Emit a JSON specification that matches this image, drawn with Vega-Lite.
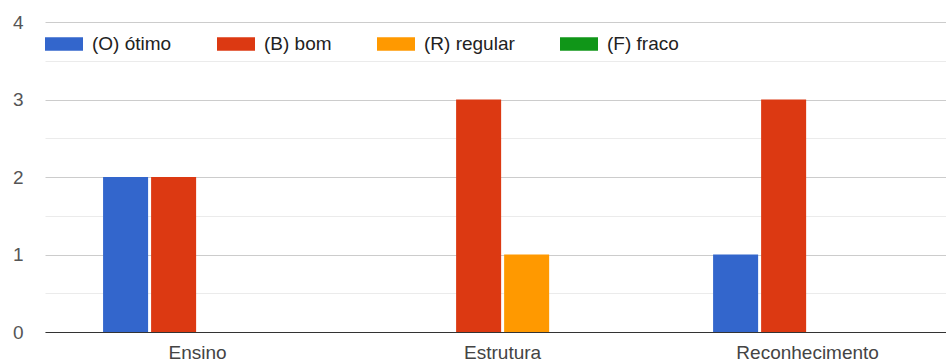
{
  "$schema": "https://vega.github.io/schema/vega-lite/v6.json",
  "width": 901,
  "height": 310,
  "autosize": {"type": "none"},
  "padding": {"left": 45, "top": 22, "right": 0, "bottom": 31},
  "background": "#ffffff",
  "config": {
    "view": {"stroke": null},
    "font": "Liberation Sans"
  },
  "data": {
    "values": [
      {"categoria": "Ensino", "avaliacao": "(O) ótimo", "respostas": 2},
      {"categoria": "Ensino", "avaliacao": "(B) bom", "respostas": 2},
      {"categoria": "Ensino", "avaliacao": "(R) regular", "respostas": 0},
      {"categoria": "Ensino", "avaliacao": "(F) fraco", "respostas": 0},
      {"categoria": "Estrutura", "avaliacao": "(O) ótimo", "respostas": 0},
      {"categoria": "Estrutura", "avaliacao": "(B) bom", "respostas": 3},
      {"categoria": "Estrutura", "avaliacao": "(R) regular", "respostas": 1},
      {"categoria": "Estrutura", "avaliacao": "(F) fraco", "respostas": 0},
      {"categoria": "Reconhecimento", "avaliacao": "(O) ótimo", "respostas": 1},
      {"categoria": "Reconhecimento", "avaliacao": "(B) bom", "respostas": 3},
      {"categoria": "Reconhecimento", "avaliacao": "(R) regular", "respostas": 0},
      {"categoria": "Reconhecimento", "avaliacao": "(F) fraco", "respostas": 0}
    ]
  },
  "encoding": {
    "x": {
      "field": "categoria",
      "type": "nominal",
      "sort": ["Ensino", "Estrutura", "Reconhecimento"],
      "scale": {"paddingInner": 0.38, "paddingOuter": 0.167, "align": 0.57},
      "axis": {
        "title": null,
        "labelAngle": 0,
        "ticks": false,
        "domain": true,
        "domainColor": "#333333",
        "domainWidth": 1,
        "labelFontSize": 19,
        "labelColor": "#444444",
        "labelPadding": 11
      }
    },
    "xOffset": {
      "field": "avaliacao",
      "type": "nominal",
      "sort": ["(O) ótimo", "(B) bom", "(R) regular", "(F) fraco"],
      "scale": {"paddingInner": 0.0625, "paddingOuter": 0}
    }
  },
  "layer": [
    {
      "mark": {"type": "bar", "opacity": 0},
      "encoding": {
        "y": {
          "field": "respostas",
          "type": "quantitative",
          "scale": {"domain": [0, 4], "nice": false},
          "axis": {
            "orient": "left",
            "values": [0.5, 1.5, 2.5, 3.5],
            "grid": true,
            "gridColor": "#ebebeb",
            "gridWidth": 1,
            "labels": false,
            "ticks": false,
            "domain": false,
            "title": null
          }
        }
      }
    },
    {
      "mark": {"type": "bar"},
      "encoding": {
        "y": {
          "field": "respostas",
          "type": "quantitative",
          "scale": {"domain": [0, 4], "nice": false},
          "axis": {
            "orient": "left",
            "values": [0, 1, 2, 3, 4],
            "grid": true,
            "gridColor": "#cccccc",
            "gridWidth": 1,
            "ticks": false,
            "domain": false,
            "title": null,
            "labelFontSize": 19,
            "labelColor": "#555555",
            "labelPadding": 22,
            "format": "d"
          }
        },
        "color": {
          "field": "avaliacao",
          "type": "nominal",
          "sort": ["(O) ótimo", "(B) bom", "(R) regular", "(F) fraco"],
          "scale": {
            "domain": ["(O) ótimo", "(B) bom", "(R) regular", "(F) fraco"],
            "range": ["#3366cc", "#dc3912", "#ff9900", "#109618"]
          },
          "legend": {
            "title": null,
            "orient": "none",
            "direction": "horizontal",
            "legendX": 0,
            "legendY": 3,
            "padding": 0,
            "symbolType": "M-1,-0.35H1V0.35H-1Z",
            "symbolSize": 1444,
            "symbolStrokeWidth": 0,
            "symbolOpacity": 1,
            "labelFontSize": 19,
            "labelColor": "#222222",
            "labelOffset": 9,
            "columnPadding": 45
          }
        }
      }
    }
  ],
  "resolve": {"axis": {"y": "independent"}}
}
